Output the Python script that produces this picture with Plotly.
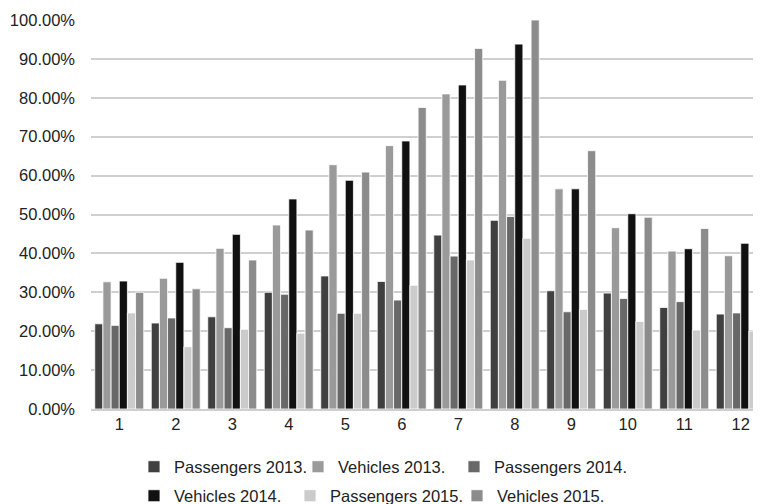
import plotly.graph_objects as go

months = ["1", "2", "3", "4", "5", "6", "7", "8", "9", "10", "11", "12"]

passengers_2013 = [21.9, 22.1, 23.7, 30.0, 34.2, 32.8, 44.7, 48.5, 30.4, 29.8, 26.1, 24.4]
vehicles_2013 = [32.7, 33.6, 41.3, 47.3, 62.8, 67.7, 81.0, 84.5, 56.6, 46.6, 40.6, 39.4]
passengers_2014 = [21.5, 23.4, 20.9, 29.5, 24.6, 28.0, 39.3, 49.5, 25.0, 28.4, 27.6, 24.7]
vehicles_2014 = [32.9, 37.7, 44.9, 54.0, 58.8, 68.9, 83.3, 93.8, 56.6, 50.2, 41.2, 42.6]
passengers_2015 = [24.7, 16.0, 20.5, 19.5, 24.6, 31.8, 38.3, 43.9, 25.6, 22.5, 20.3, 20.0]
vehicles_2015 = [30.0, 30.9, 38.3, 46.0, 60.9, 77.5, 92.7, 100.0, 66.4, 49.3, 46.4, 40.4]

series_names = ["Passengers 2013.", "Vehicles 2013.", "Passengers 2014.",
                "Vehicles 2014.", "Passengers 2015.", "Vehicles 2015."]
series_values = [passengers_2013, vehicles_2013, passengers_2014,
                 vehicles_2014, passengers_2015, vehicles_2015]
colors = ["#404040", "#9a9a9a", "#686868", "#111111", "#cbcbcb", "#8c8c8c"]
legend_ids = ["legend", "legend2", "legend3", "legend4", "legend5", "legend6"]

# page body adds an 8px offset, so the figure is sized to the visible area
W, H = 753, 496
FONT = "Liberation Sans, Arial, sans-serif"
x_pos = list(range(1, len(months) + 1))

fig = go.Figure()
for name, vals, col, lg in zip(series_names, series_values, colors, legend_ids):
    fig.add_trace(go.Bar(
        x=x_pos, y=[v / 100 for v in vals], name=name,
        marker=dict(color=col, line=dict(color="#ffffff", width=0.8)),
        legend=lg,
    ))

# legend slots: (text-start px, row center px) in figure coordinates
slots = [(166, 459), (330, 459), (486, 459), (166, 488), (322, 488), (489, 488)]
legend_layout = {}
for lg, (xpx, ypx) in zip(legend_ids, slots):
    legend_layout[lg] = dict(
        x=(xpx - 40) / W, y=1 - ypx / H, xref="container", yref="container",
        xanchor="left", yanchor="middle", orientation="h",
        bgcolor="rgba(0,0,0,0)", borderwidth=0,
        font=dict(family=FONT, size=16.5, color="#222222"),
        itemwidth=30,
    )

fig.update_layout(
    width=W, height=H,
    margin=dict(l=83, r=0, t=12, b=94.5),
    paper_bgcolor="white", plot_bgcolor="white",
    barmode="group", bargap=0.133, bargroupgap=0,
    showlegend=True,
    font=dict(family=FONT, size=16.5, color="#222222"),
    xaxis=dict(
        tickmode="array", tickvals=x_pos, ticktext=months,
        range=[0.5, 0.5 + 670 / 56.5],
        showgrid=False, zeroline=False,
        showline=True, linecolor="#cfcfcf", linewidth=1.5,
        ticks="", ticklabelstandoff=-1,
        tickfont=dict(family=FONT, size=16.5, color="#222222"),
    ),
    yaxis=dict(
        range=[0, 1], tickformat=".2%", dtick=0.1,
        showgrid=True, gridcolor="#cfcfcf", gridwidth=1.5,
        zeroline=False, showline=False,
        ticks="", ticklabelstandoff=15,
        tickfont=dict(family=FONT, size=16.5, color="#222222"),
    ),
    **legend_layout,
)

fig.write_html("out.html")
